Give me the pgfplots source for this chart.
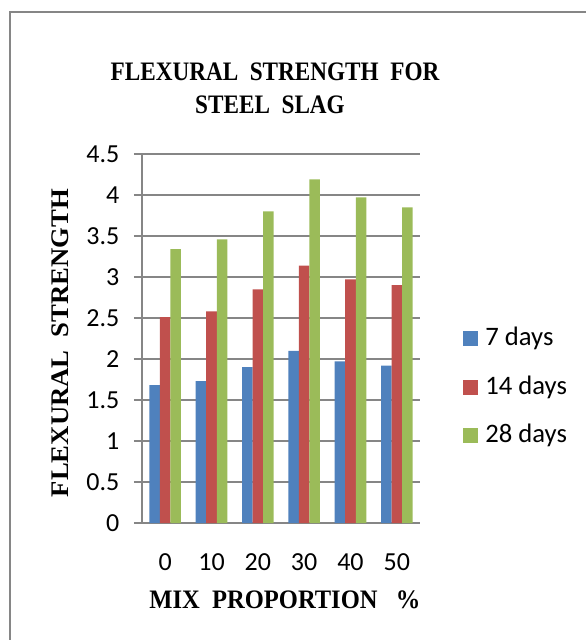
\documentclass[border=0pt]{standalone}
\usepackage{fontspec}
\setmainfont{Carlito}
\newfontfamily\tnr{Liberation Serif}
\usepackage{pgfplots}
\usepackage{pgfplotstable}
\pgfplotsset{compat=1.18}
\definecolor{cBlue}{HTML}{4F81BD}
\definecolor{cRed}{HTML}{C0504D}
\definecolor{cGreen}{HTML}{9BBB59}
\definecolor{cGrid}{HTML}{868686}
\pgfplotstableread{
x d7 d14 d28
0 1.68 2.51 3.34
1 1.73 2.58 3.46
2 1.90 2.85 3.80
3 2.10 3.14 4.19
4 1.97 2.97 3.97
5 1.92 2.90 3.85
}\datatable
\begin{document}
\begin{tikzpicture}
\useasboundingbox (0pt,0pt) rectangle (439.5pt,-480pt);
\draw[cGrid, line width=1.1pt] (7.5pt,-481pt) -- (7.5pt,-9pt) -- (441pt,-9pt);
\begin{axis}[
  at={(106.5pt,-392.25pt)}, anchor=south west,
  scale only axis, width=208.5pt, height=276.75pt,
  ybar=0pt, bar width=7.9pt,
  xmin=-0.5, xmax=5.5, ymin=0, ymax=4.5,
  xtick={0,1,2,3,4,5}, xticklabels={0,10,20,30,40,50},
  ytick={0,0.5,1,1.5,2,2.5,3,3.5,4,4.5},
  yticklabels={0,0.5,1,1.5,2,2.5,3,3.5,4,4.5},
  axis x line*=bottom, axis y line*=left,
  axis line style={draw=cGrid, line width=1pt, -},
  ymajorgrids, grid style={draw=cGrid, line width=0.9pt},
  major x tick style={draw=none},
  major y tick style={draw=cGrid, line width=0.9pt},
  tick align=outside, major tick length=6pt,
  /pgf/number format/assume math mode=true,
  tick label style={font=\fontsize{19.5}{23.4}\selectfont},
  yticklabel style={xshift=-7.5pt},
  xticklabel style={yshift=-13.5pt},
  legend style={draw=none, fill=none, at={(1.155,0.538)}, anchor=north west,
    inner sep=0pt, font=\fontsize{20}{24}\selectfont, row sep=16.75pt},
  legend cell align=left,
  legend image code/.code={\fill[#1] (0pt,-6.5pt) rectangle (11.25pt,4.75pt); \path (14.5pt,0pt);},
]
\addplot[fill=cBlue, draw=none] table[x=x, y=d7] {\datatable};
\addplot[fill=cRed, draw=none] table[x=x, y=d14] {\datatable};
\addplot[fill=cGreen, draw=none] table[x=x, y=d28] {\datatable};
\legend{7 days, 14 days, 28 days}
\end{axis}
\node[anchor=base, xscale=0.87, font=\tnr\bfseries\fontsize{20}{24}\selectfont] at (206.25pt,-60pt) {FLEXURAL\ \ STRENGTH\ \ FOR};
\node[anchor=base, xscale=0.87, font=\tnr\bfseries\fontsize{20}{24}\selectfont] at (202.5pt,-84.75pt) {STEEL\ \ SLAG};
\node[anchor=base, rotate=90, yscale=0.95, font=\tnr\bfseries\fontsize{20}{24}\selectfont] at (51pt,-257.25pt) {FLEXURAL\ \ STRENGTH};
\node[anchor=base, xscale=0.92, font=\tnr\bfseries\fontsize{20}{24}\selectfont] at (213.75pt,-456pt) {MIX\ \ PROPORTION\ \ \ \%};
\end{tikzpicture}
\end{document}
